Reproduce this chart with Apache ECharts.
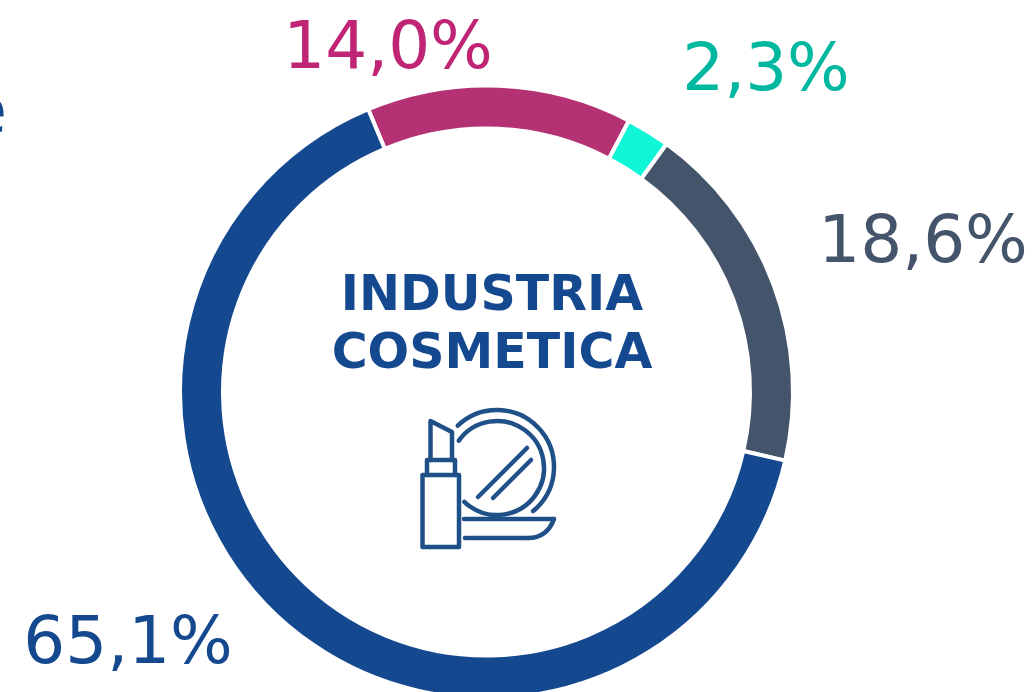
<!DOCTYPE html>
<html>
<head>
<meta charset="utf-8">
<style>
  html, body { margin: 0; padding: 0; background: #fff; }
  #main { width: 1035px; height: 692px; }
</style>
<script src="https://cdn.jsdelivr.net/npm/echarts@6/dist/echarts.min.js"></script>
</head>
<body>
<div id="main"></div>
<script>
// shares, clockwise from the magenta slice
var shares = [14.0, 2.3, 18.6, 65.1];
var sliceColors = ['#b43173', '#0ff5d6', '#44546a', '#15498f'];
var labelColors = ['#bf2574', '#00b8a0', '#44546a', '#15498f'];
var labelSpots = [[388, 51], [766, 73], [923, 245], [128, 646]];

var blue = '#15498f';
var font = '"DejaVu Sans", Verdana, sans-serif';
var iconStyle = { fill: 'none', stroke: '#1f5088', lineWidth: 4.5, lineCap: 'round', lineJoin: 'round' };

var myChart = echarts.init(document.getElementById('main'));

var option = {
  animation: false,
  backgroundColor: '#fff',
  title: [
    {
      text: 'INDUSTRIA\nCOSMETICA',
      left: 487,
      top: 263,
      textAlign: 'center',
      textStyle: {
        color: blue,
        fontFamily: font,
        fontWeight: 'bold',
        fontSize: 49,
        lineHeight: 58
      }
    }
  ],
  series: [
    {
      type: 'pie',
      center: [486.5, 392],
      radius: [263.5, 306.5],
      startAngle: 112.7,
      clockwise: true,
      silent: true,
      data: shares.map(function (v, i) {
        return { value: v, itemStyle: { color: sliceColors[i] }, label: { color: labelColors[i] } };
      }),
      itemStyle: { borderColor: '#fff', borderWidth: 4 },
      label: {
        show: true,
        fontFamily: font,
        fontSize: 66,
        overflow: 'none',
        formatter: function (p) {
          return p.value.toFixed(1).replace('.', ',') + '%';
        }
      },
      labelLine: { show: false },
      labelLayout: function (p) {
        return {
          x: labelSpots[p.dataIndex][0],
          y: labelSpots[p.dataIndex][1],
          align: 'center',
          verticalAlign: 'middle'
        };
      }
    }
  ],
  graphic: [
    {
      // lipstick + compact mirror
      type: 'group',
      x: 400,
      y: 390,
      children: [
        { type: 'rect', shape: { x: 22.5, y: 85, width: 36.5, height: 72 }, style: iconStyle },
        { type: 'polyline', shape: { points: [[27, 85], [27, 70], [55, 70], [55, 85]] }, style: iconStyle },
        { type: 'polyline', shape: { points: [[30.5, 70], [30.5, 31], [52, 42], [52, 70]] }, style: iconStyle },
        { type: 'arc', shape: { cx: 97, cy: 77, r: 57, startAngle: -2.33, endAngle: 0.885, clockwise: true }, style: iconStyle },
        { type: 'arc', shape: { cx: 97, cy: 78, r: 47, startAngle: -2.52, endAngle: 2.34, clockwise: true }, style: iconStyle },
        { type: 'line', shape: { x1: 127, y1: 58, x2: 78, y2: 107 }, style: iconStyle },
        { type: 'line', shape: { x1: 131, y1: 70, x2: 93, y2: 108 }, style: iconStyle },
        { type: 'line', shape: { x1: 64, y1: 129, x2: 154, y2: 129 }, style: iconStyle },
        { type: 'bezierCurve', shape: { x1: 154, y1: 129, cpx1: 150, cpy1: 140, cpx2: 142, cpy2: 148, x2: 128, y2: 148 }, style: iconStyle },
        { type: 'line', shape: { x1: 128, y1: 148, x2: 65, y2: 148 }, style: iconStyle }
      ]
    },
    {
      // cut off letter at the left edge of the crop
      type: 'text',
      x: -33,
      y: 84,
      style: { text: 'e', fill: blue, font: '65px ' + font }
    }
  ]
};

myChart.setOption(option);
</script>
</body>
</html>
